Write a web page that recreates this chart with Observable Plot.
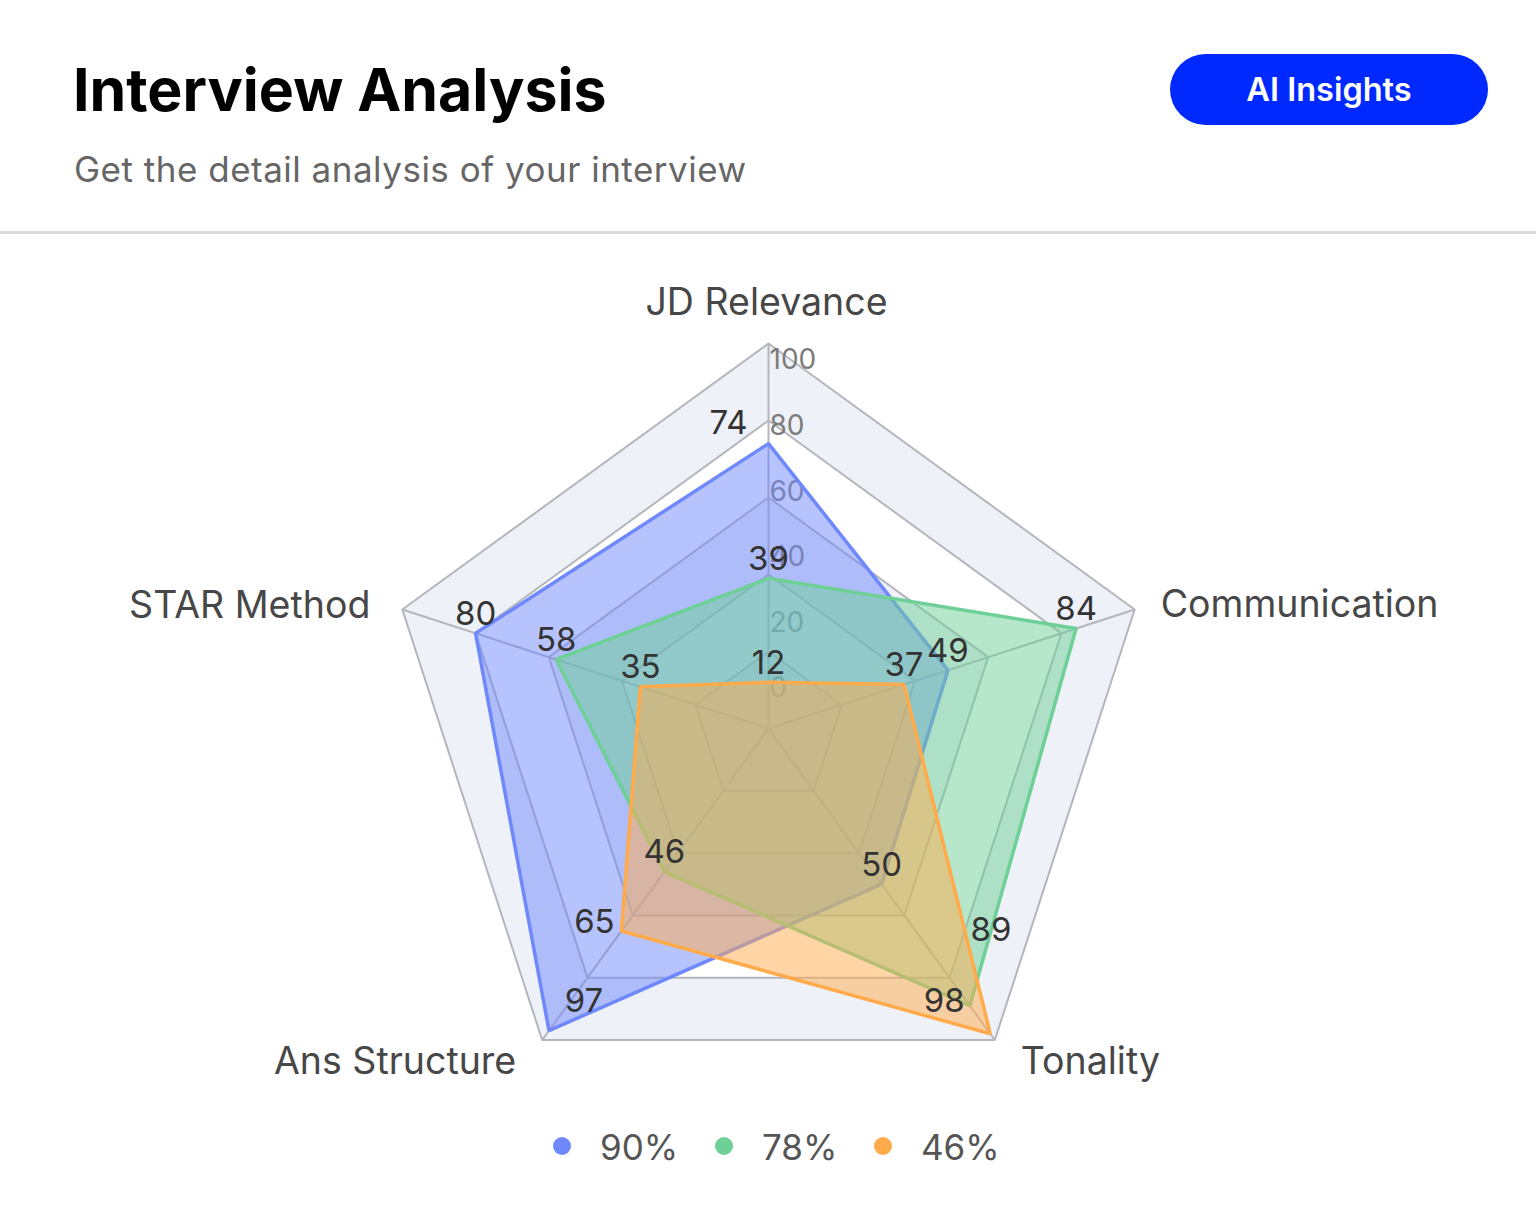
<!DOCTYPE html>
<html>
<head>
<meta charset="utf-8">
<script src="https://cdn.jsdelivr.net/npm/d3@7"></script>
<script src="https://cdn.jsdelivr.net/npm/@observablehq/plot@0.6"></script>
<style>
  html, body { margin: 0; padding: 0; background: #fff; }
  body { width: 1536px; font-family: Inter, "Noto Sans", sans-serif; }
  #header { position: relative; height: 231px; border-bottom: 3px solid #dadada; }
  #title { position: absolute; left: 73px; top: 60px; font-size: 59px; line-height: 59px; font-weight: 700; color: #000; white-space: nowrap; }
  #subtitle { position: absolute; left: 74px; top: 152px; font-size: 35px; line-height: 35px; color: #666; white-space: nowrap; letter-spacing: 0.5px; }
  #button { position: absolute; left: 1170px; top: 54px; width: 318px; height: 71px; border-radius: 36px; background: #0029ff; color: #fff; font-size: 32.5px; font-weight: 600; display: flex; align-items: center; justify-content: center; }
  #chart { height: 876px; }
  #legend { position: relative; height: 111px; }
  .dot { position: absolute; width: 18px; height: 18px; border-radius: 50%; top: 27px; }
  .lt { position: absolute; top: 20px; font-size: 35px; line-height: 35px; color: #555; white-space: nowrap; }
</style>
</head>
<body>
<div id="header">
  <div id="title">Interview Analysis</div>
  <div id="subtitle">Get the detail analysis of your interview</div>
  <div id="button">AI Insights</div>
</div>
<div id="chart"></div>
<div id="legend"></div>
<script>
// ---------- data ----------
const axesNames = ["JD Relevance", "Communication", "Tonality", "Ans Structure", "STAR Method"];
const seriesNames = ["90%", "78%", "46%"];
const blueValues = [74, 49, 50, 97, 80];
const greenValues = [39, 84, 89, 46, 58];
const orangeValues = [12, 37, 98, 65, 35];
const ringLevels = [100, 80, 60, 40, 20];
const tickValues = [0, 20, 40, 60, 80, 100];

// ---------- styling ----------
const colors = ["#6f88fc", "#6ed096", "#ffab4b"];
const bandFill = "#eef1f8";
const gridStroke = "#b5b5bd";
const cx = 768, cy = 494, R = 385;  // px
const k = R / 100;                  // px per value unit
// nudges (px) for value labels that sit away from the default spot
const labelNudge = { "0-0": [-40, -20], "0-3": [35, -29], "2-3": [-27, -9], "2-2": [-46, -32], "1-2": [21, -75] };
const defaultNudge = [0, -19];
const axisLabelPlacement = [
  { anchor: "middle", dx: -2, dy: -41 },
  { anchor: "start", dx: 26, dy: -5 },
  { anchor: "start", dx: 26, dy: 22 },
  { anchor: "end", dx: -26, dy: 22 },
  { anchor: "end", dx: -32, dy: -4 }
];
const tickPos = d3.scaleLinear().domain([0, 100]).range([10.4, 95.6]);

// ---------- derived ----------
const allValues = [blueValues, greenValues, orangeValues];
const ang = i => Math.PI / 2 - i * 2 * Math.PI / 5;
const px = (v, i) => v * Math.cos(ang(i));
const py = (v, i) => v * Math.sin(ang(i));

const rows = [];
allValues.forEach((vals, s) => vals.forEach((v, i) => rows.push({ s, i, series: seriesNames[s], axis: axesNames[i], value: v })));

const ring = level => axesNames.map((a, i) => ({ level, i }));
const spokes = axesNames.map((a, i) => ({ i }));

const marks = [];
// alternating split areas (outer to inner)
ringLevels.forEach(level => {
  marks.push(Plot.line(ring(level), {
    x: d => px(d.level, d.i), y: d => py(d.level, d.i), curve: "linear-closed",
    fill: (level / 20) % 2 === 1 ? bandFill : "#ffffff", stroke: "none"
  }));
});
// ring lines
ringLevels.forEach(level => {
  marks.push(Plot.line(ring(level), {
    x: d => px(d.level, d.i), y: d => py(d.level, d.i), curve: "linear-closed",
    stroke: gridStroke, strokeWidth: 2
  }));
});
// spokes
marks.push(Plot.link(spokes, {
  x1: 0, y1: 0, x2: d => px(100, d.i), y2: d => py(100, d.i),
  stroke: gridStroke, strokeWidth: 2
}));
// tick labels
marks.push(Plot.text(tickValues, {
  x: 0, y: t => tickPos(t), text: t => String(t), textAnchor: "start", dx: 1,
  fontSize: 28, fill: "#7c7c7c"
}));
// series
seriesNames.forEach((name, s) => {
  marks.push(Plot.line(rows.filter(r => r.s === s), {
    x: d => px(d.value, d.i), y: d => py(d.value, d.i), curve: "linear-closed",
    fill: colors[s], fillOpacity: 0.5, stroke: colors[s], strokeWidth: 3.5, strokeLinejoin: "miter"
  }));
});
// value labels
const nudge = d => labelNudge[`${d.s}-${d.i}`] || defaultNudge;
marks.push(Plot.text(rows, {
  x: d => px(d.value, d.i) + nudge(d)[0] / k,
  y: d => py(d.value, d.i) - nudge(d)[1] / k,
  text: d => String(d.value), fontSize: 33, fill: "#333"
}));
// axis names
axesNames.forEach((name, i) => {
  const p = axisLabelPlacement[i];
  marks.push(Plot.text([name], {
    x: () => px(100, i), y: () => py(100, i), text: d => d,
    textAnchor: p.anchor, dx: p.dx, dy: p.dy, fontSize: 37.5, fill: "#474747"
  }));
});

const chart = Plot.plot({
  width: 1536, height: 876, margin: 0,
  x: { domain: [-100, 100], range: [cx - R, cx + R], axis: null },
  y: { domain: [-100, 100], range: [cy + R, cy - R], axis: null },
  style: { fontFamily: "Inter, 'Noto Sans', sans-serif", background: "transparent", overflow: "visible" },
  marks
});
document.getElementById("chart").appendChild(chart);

// legend
const legend = document.getElementById("legend");
const dotLeft = [553, 715, 874];
const textLeft = [600, 762, 921];
seriesNames.forEach((name, s) => {
  const dot = document.createElement("div");
  dot.className = "dot"; dot.style.left = dotLeft[s] + "px"; dot.style.background = colors[s];
  legend.appendChild(dot);
  const t = document.createElement("div");
  t.className = "lt"; t.style.left = textLeft[s] + "px"; t.textContent = name;
  legend.appendChild(t);
});
</script>
</body>
</html>
